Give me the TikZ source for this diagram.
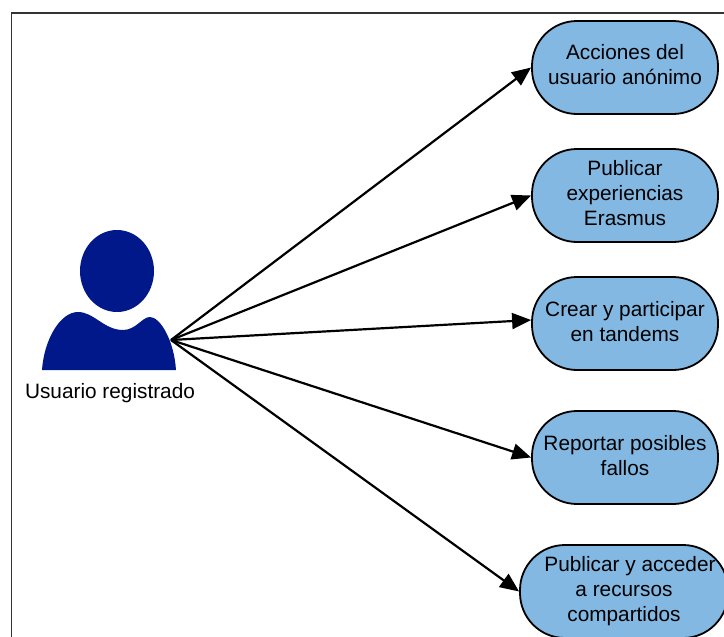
\documentclass[tikz,border=0pt]{standalone}
\usepackage{fontspec}
\setmainfont{Liberation Sans}
\usetikzlibrary{arrows.meta}
\definecolor{boxblue}{HTML}{83B8E3}
\definecolor{userblue}{HTML}{00188A}
\definecolor{framegray}{HTML}{333333}
\newcommand{\lines}[1]{\begin{tabular}{@{}c@{}}#1\end{tabular}}
\tikzset{
  usecase/.style={draw=black,line width=1.8pt,fill=boxblue,rounded corners=45pt,minimum width=186pt,minimum height=93pt,inner sep=0pt,text=black,font=\fontsize{20.8}{25}\selectfont},
  link/.style={draw=black,line width=2.2pt,-{Triangle[length=19pt,width=16pt]}},
  label/.style={inner sep=0pt,font=\fontsize{20.8}{25}\selectfont}
}
\begin{document}
\begin{tikzpicture}[x=1pt,y=-1pt]
\useasboundingbox (0,0) rectangle (724,637);
\clip (0,0) rectangle (724,637);
\fill[white] (0,0) rectangle (724,637);
\draw[framegray,line width=1.8pt] (11.5,637) -- (11.5,13) -- (724,13);
\fill[userblue] (117,271) ellipse [x radius=37,y radius=41];
\fill[userblue] (42,370) .. controls (44,340) and (60,312) .. (78,312)
  .. controls (94,312) and (104,330) .. (123,330)
  .. controls (136,330) and (142,317) .. (150,317)
  .. controls (160,317) and (174,340) .. (176,370) -- cycle;
\coordinate (src) at (171,340);
\node[label] (user) at (110,393) {Usuario registrado};
\node[usecase] (b1) at (625,67.5) {\lines{Acciones del\\usuario anónimo}};
\node[usecase] (b2) at (625,195.5) {\lines{Publicar\\experiencias\\Erasmus}};
\node[usecase] (b3) at (625,323.5) {\lines{Crear y participar\\en tandems}};
\node[usecase] (b4) at (625,457.5) {\lines{Reportar posibles\\fallos}};
\node[usecase,minimum width=208pt] (b5) at (624,591.5) {\lines{\hspace*{12pt}Publicar y acceder\\a recursos\\compartidos}};
\draw[link] (src) -- (b1.west);
\draw[link] (src) -- (b2.west);
\draw[link] (src) -- ([yshift=3.5pt]b3.west);
\draw[link] (src) -- (b4.west);
\draw[link] (src) -- (b5.west);
\end{tikzpicture}
\end{document}
